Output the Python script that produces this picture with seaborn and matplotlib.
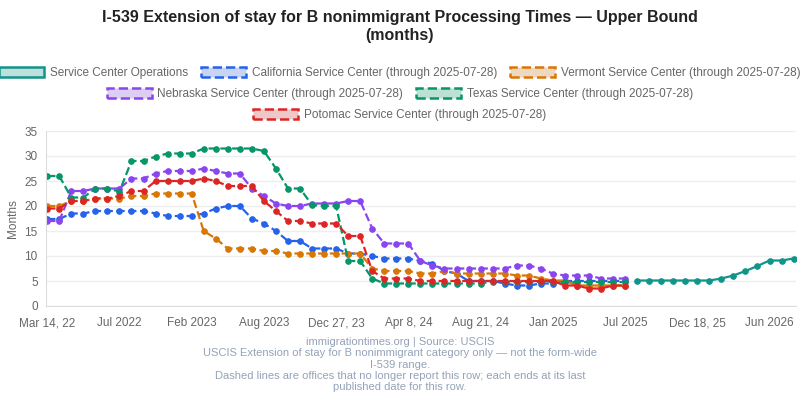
import matplotlib
matplotlib.use("Agg")
from matplotlib import pyplot as plt
from matplotlib.patches import Patch
import seaborn as sns
import pandas as pd
import numpy as np

# values in months, one point per report (index positions along the x axis)
texas = [26, 26, 21.7, 21.7, 23.5, 23.5, 22.9, 29, 29, 29.9, 30.5, 30.5, 30.5, 31.5, 31.5, 31.5,
         31.5, 31.5, 31, 27.5, 23.5, 23.5, 20.2, 20, 20, 9, 9, 5.5, 4.5, 4.5, 4.5, 4.5, 4.5, 4.5,
         4.5, 4.5, 4.5, 4.9, 4.8, 4.8, 4.8, 4.8, 4.8, 4.8, 4.8, 4.8, 4.8, 4.8, 4.8]
nebraska = [17, 17, 23, 23, 23.5, 23.5, 23.5, 25.5, 25.5, 26.5, 27, 27, 27, 27.5, 27, 26.5, 26.5,
            23.5, 22, 20.5, 20, 20, 20.5, 20.5, 20.5, 21, 21, 15.5, 12.5, 12.5, 12.5, 9, 8.1, 7.5,
            7.5, 7.5, 7.5, 7.5, 7.5, 8.1, 8.1, 7.5, 6.5, 6.1, 6.1, 6.1, 5.5, 5.5, 5.5]
potomac = [19.5, 19.5, 21, 21, 21.5, 21.5, 22, 23, 23, 25, 25, 25, 25, 25.5, 25, 24, 24, 24, 21,
           19, 17, 17, 16.5, 16.5, 16.5, 14, 14, 7, 5.5, 5.5, 5.5, 5, 5, 5, 5, 5, 5, 5, 5, 5, 5, 5,
           5, 4.1, 4.1, 3.5, 3.5, 4.1, 4.1]
vermont = [20, 20, 21, 21, 21.5, 21.5, 21.5, 22, 22, 22.5, 22.5, 22.5, 22.5, 15, 13.5, 11.5, 11.5,
           11.5, 11, 11, 10.5, 10.5, 10.5, 10.5, 10.5, 10.5, 10.5, 7.5, 7, 7, 7, 6.5, 6.5, 7, 6.5,
           6.5, 6.5, 6.5, 6.5, 6.1, 6.1, 5.5, 5.1, 5.1, 4.1, 4.1, 4.1, 4.1, 4.1]
california = [17.4, 17.4, 18.5, 18.5, 19, 19, 19, 19, 19, 18.5, 18, 18, 18, 18.5, 19.5, 20, 20,
              17.5, 16.5, 15, 13, 13, 11.5, 11.5, 11.5, 10.5, 10.5, 10, 9.5, 9.5, 9.5, 9, 8.5, 7,
              6.5, 5, 5, 5, 4.5, 4.1, 4.1, 4.5, 4.5, 5, 5, 5, 5, 5, 5]
operations = [5.1, 5.1, 5.1, 5.1, 5.1, 5.1, 5.1, 5.5, 6.1, 7, 8, 9.1, 9.1, 9.5]
ops_start = 49

tick_pos = [0, 6, 12, 18, 24, 30, 36, 42, 48, 54, 60]
tick_labels = ["Mar 14, 22", "Jul 2022", "Feb 2023", "Aug 2023", "Dec 27, 23", "Apr 8, 24",
               "Aug 21, 24", "Jan 2025", "Jul 2025", "Dec 18, 25", "Jun 2026"]

series = [
    ("Service Center Operations", operations, "#11948a", "-", ops_start),
    ("California Service Center (through 2025-07-28)", california, "#2563eb", "--", 0),
    ("Vermont Service Center (through 2025-07-28)", vermont, "#d97706", "--", 0),
    ("Nebraska Service Center (through 2025-07-28)", nebraska, "#8b45ef", "--", 0),
    ("Texas Service Center (through 2025-07-28)", texas, "#059669", "--", 0),
    ("Potomac Service Center (through 2025-07-28)", potomac, "#dc2626", "--", 0),
]

sns.set_style("white")
plt.rcParams['font.family'] = ['Liberation Sans', 'DejaVu Sans']
fig = plt.figure(figsize=(8, 4), dpi=100)
ax = fig.add_axes([0.0575, 0.235, 0.9375, 0.4375])

handles = []
for name, vals, color, ls, start in series[1:] + series[:1]:
    df = pd.DataFrame({"x": np.arange(start, start + len(vals)), "y": vals})
    sns.lineplot(data=df, x="x", y="y", ax=ax, color=color, linestyle=ls, linewidth=1.6,
                 marker="o", markersize=4, markeredgecolor=color, dashes=(ls == "--"))
for name, vals, color, ls, start in series:
    handles.append(Patch(facecolor=sns.light_palette(color, 6)[1], edgecolor=color,
                         linestyle="-" if ls == "-" else "--", linewidth=1.8, label=name))

ax.set_xlim(-0.1, 62.2)
ax.set_ylim(0, 35)
ax.set_yticks(range(0, 36, 5))
ax.set_xticks(tick_pos)
ax.set_xticklabels(tick_labels)
ax.tick_params(labelsize=8.5, colors="#666666", length=0)
ax.tick_params(axis="x", pad=8)
ax.tick_params(axis="y", pad=6)
ax.grid(axis="y", color="#eeeeee", linewidth=1)
ax.set_xlabel("")
ax.set_ylabel("Months", fontsize=8.5, color="#666666")
for s in ["top", "right"]:
    ax.spines[s].set_visible(False)
for s in ["left", "bottom"]:
    ax.spines[s].set_color("#dddddd")

fig.suptitle("I-539 Extension of stay for B nonimmigrant Processing Times — Upper Bound\n(months)",
             y=0.975, fontsize=11.5, fontweight="bold", color="#222222", linespacing=1.25)

rows = [(handles[0:3], 0.8175), (handles[3:5], 0.765), (handles[5:6], 0.7125)]
for hs, y in rows:
    leg = fig.legend(handles=hs, loc="center", bbox_to_anchor=(0.5, y), ncol=len(hs),
                     frameon=False, fontsize=8.5, handlelength=3.8, handleheight=1.0,
                     columnspacing=1.1, handletextpad=0.5, borderpad=0.1)
    for t in leg.get_texts():
        t.set_color("#666666")

fig.text(0.5, 0.02, "immigrationtimes.org | Source: USCIS\n"
         "USCIS Extension of stay for B nonimmigrant category only — not the form-wide\n"
         "I-539 range.\n"
         "Dashed lines are offices that no longer report this row; each ends at its last\n"
         "published date for this row.", ha="center", va="bottom", fontsize=8,
         color="#94a3b8", linespacing=1.15)

fig.savefig("out.png", dpi=100)
